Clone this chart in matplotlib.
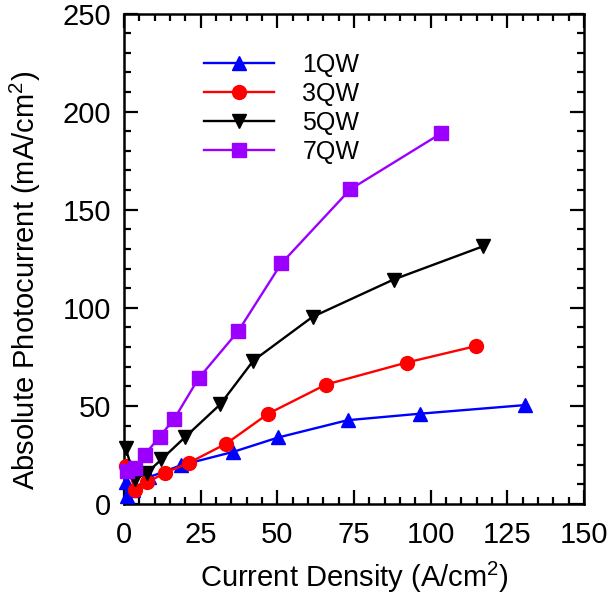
import numpy as np
import matplotlib
matplotlib.use("Agg")
import matplotlib.pyplot as plt
from matplotlib.ticker import MultipleLocator

plt.rcParams['font.family'] = ['Liberation Sans', 'DejaVu Sans']
plt.rcParams['mathtext.fontset'] = 'custom'
plt.rcParams['mathtext.rm'] = 'Liberation Sans'
plt.rcParams['mathtext.default'] = 'regular'

# --- data (current density A/cm2, photocurrent mA/cm2) ---
x_1qw = [0.5, 1.1, 3.0, 8.1, 18.7, 35.7, 50.3, 72.9, 96.4, 130.7]
y_1qw = [11.0, 4.3, 7.2, 13.6, 19.8, 26.6, 33.9, 42.7, 46.0, 50.4]

x_3qw = [0.8, 3.7, 7.6, 13.5, 21.3, 33.4, 47.0, 65.9, 92.2, 114.8]
y_3qw = [19.5, 7.2, 11.1, 15.9, 21.1, 30.8, 46.0, 60.9, 72.1, 80.5]

x_5qw = [0.5, 3.7, 7.5, 12.2, 19.8, 31.4, 42.2, 61.5, 87.9, 117.0]
y_5qw = [28.5, 12.6, 15.9, 22.7, 33.9, 50.8, 73.1, 95.4, 114.4, 131.3]

x_7qw = [1.1, 3.7, 6.7, 11.6, 16.4, 24.3, 37.3, 51.3, 73.8, 103.4]
y_7qw = [17.0, 18.4, 25.0, 34.3, 43.4, 64.0, 88.2, 122.6, 160.4, 188.9]

labels = ["1QW", "3QW", "5QW", "7QW"]
colors = ["#0000ff", "#ff0000", "#000000", "#9b00ff"]
markers = ["^", "o", "v", "s"]

fig = plt.figure(figsize=(6.12, 5.96), dpi=100)
ax = fig.add_axes([0.2026, 0.1544, 0.7516, 0.8229])

series = [(x_1qw, y_1qw), (x_3qw, y_3qw), (x_5qw, y_5qw), (x_7qw, y_7qw)]
for (xs, ys), lab, c, m in zip(series, labels, colors, markers):
    ms = 10.5 if m == "s" else 10
    ax.plot(xs, ys, color=c, marker=m, markersize=ms, linewidth=1.7,
            markeredgecolor=c, label=lab, zorder=3, clip_on=False)

ax.set_xlim(0, 150)
ax.set_ylim(0, 250)
ax.xaxis.set_major_locator(MultipleLocator(25))
ax.xaxis.set_minor_locator(MultipleLocator(5))
ax.yaxis.set_major_locator(MultipleLocator(50))
ax.yaxis.set_minor_locator(MultipleLocator(10))

ax.tick_params(which="both", direction="in", top=True, right=True, width=1.6)
ax.tick_params(which="major", length=10, labelsize=21)
ax.tick_params(axis="x", which="major", pad=12)
ax.tick_params(axis="y", which="major", pad=9)
ax.tick_params(which="minor", length=5)
for sp in ax.spines.values():
    sp.set_linewidth(1.8)

ax.set_xlabel("Current Density (A/cm$^{2}$)", fontsize=21, labelpad=8)
ax.set_ylabel("Absolute Photocurrent (mA/cm$^{2}$)", fontsize=21)
ax.yaxis.set_label_coords(-0.175, 0.455)

ax.legend(loc="upper left", bbox_to_anchor=(0.124, 0.966), frameon=False,
          fontsize=18, handlelength=2.8, handletextpad=1.15, labelspacing=0.2)

fig.savefig("out.png", dpi=100)
